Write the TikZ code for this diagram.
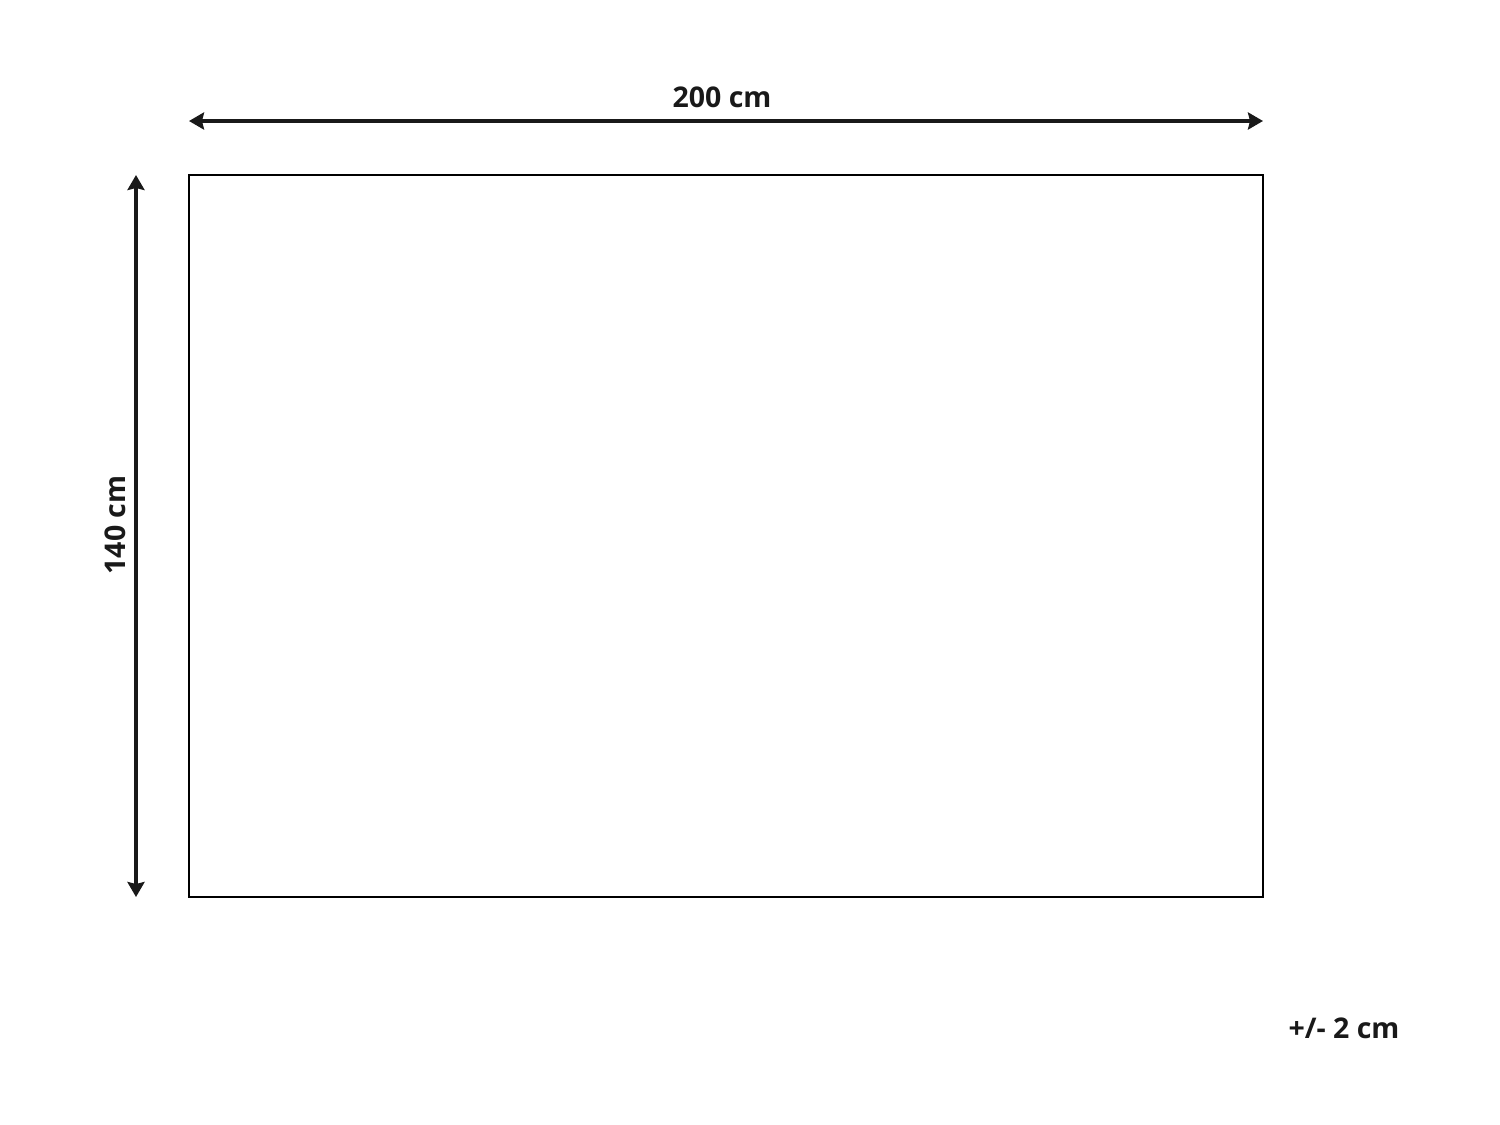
\documentclass[tikz,border=0pt]{standalone}
\usepackage{fontspec}
\setmainfont{Open Sans}
\usetikzlibrary{arrows.meta}
\begin{document}
\begin{tikzpicture}[x=1pt,y=-1pt,
  dimline/.style={line width=4pt,{Stealth[length=15pt,width=17pt,inset=2pt]}-{Stealth[length=15pt,width=17pt,inset=2pt]}},
  lbl/.style={font=\fontsize{28.5}{32}\selectfont\bfseries,inner sep=0pt,text=black!90}]
\useasboundingbox (0,0) rectangle (1500,1125);
\node[draw,line width=2pt,minimum width=1074pt,minimum height=722pt,inner sep=0pt] (rug) at (726,536) {};
\coordinate (hl) at (189,121);
\coordinate (hr) at (1263,121);
\coordinate (vt) at (136,175);
\coordinate (vb) at (136,897);
\draw[dimline,black!90] (hl) -- (hr);
\draw[dimline,black!90] (vt) -- (vb);
\node[lbl] (w) at (722,97) {200 cm};
\node[lbl,rotate=90] (h) at (115,525) {140 cm};
\node[lbl] (tol) at (1344,1028) {+/- 2 cm};
\end{tikzpicture}
\end{document}
